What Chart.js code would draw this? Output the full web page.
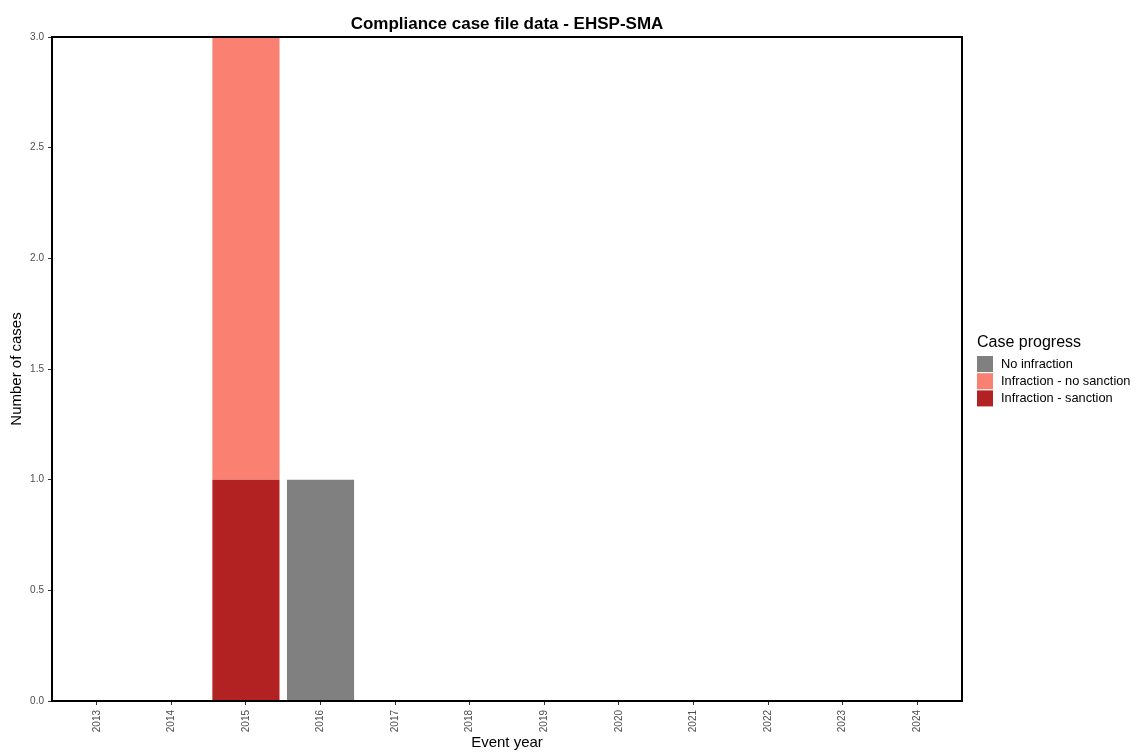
<!DOCTYPE html>
<html>
<head>
<meta charset="utf-8">
<script src="https://cdn.jsdelivr.net/npm/chart.js@4.4.1/dist/chart.umd.min.js"></script>
<style>
  html,body{margin:0;padding:0;background:#fff;}
  #wrap{width:1139px;height:755px;position:relative;}
</style>
</head>
<body>
<div id="wrap"><canvas id="myChart"></canvas></div>
<script>
        //Data
        var years = [2013, 2014, 2015, 2016, 2017, 2018, 2019, 2020, 2021, 2022, 2023, 2024]
        var noInfraction = [0, 0, 0, 1, 0, 0, 0, 0, 0, 0, 0, 0]
        var noSanction = [0, 0, 2, 0, 0, 0, 0, 0, 0, 0, 0, 0]
        var sanction = [0, 0, 1, 0, 0, 0, 0, 0, 0, 0, 0, 0]
        var yTicks = [0, 0.5, 1, 1.5, 2, 2.5, 3]

        var fontFamily = "'Liberation Sans', Arial, sans-serif"
        Chart.defaults.font.family = fontFamily

        function toPoints(values){
            return values.map(function(v, i){ return {x: years[i], y: v} })
        }

        //Panel border + legend (ggplot style)
        var panelAndLegend = {
            id: 'panelAndLegend',
            afterDatasetsDraw: function(chart){
                var a = chart.chartArea
                var ctx = chart.ctx
                ctx.save()
                ctx.strokeStyle = '#000'
                ctx.lineWidth = 2
                ctx.strokeRect(a.left, a.top, a.right - a.left, a.bottom - a.top)
                ctx.restore()
            },
            afterDraw: function(chart){
                var ctx = chart.ctx
                var a = chart.chartArea
                var x = a.right + 15
                var y = 356
                ctx.save()
                ctx.fillStyle = '#000'
                ctx.textAlign = 'left'
                ctx.textBaseline = 'alphabetic'
                ctx.font = '16px ' + fontFamily
                ctx.fillText('Case progress', x, 347)
                ctx.font = '12.8px ' + fontFamily
                ctx.textBaseline = 'middle'
                var sets = chart.data.datasets.slice().reverse()
                sets.forEach(function(ds, i){
                    var top = y + i * 17.2
                    ctx.fillStyle = ds.backgroundColor
                    ctx.fillRect(x, top, 16, 16)
                    ctx.fillStyle = '#000'
                    ctx.fillText(ds.label, x + 24, top + 8.5)
                })
                ctx.restore()
            }
        }

        //Chart
        var ctx1 = document.getElementById('myChart')

        new Chart(ctx1, {
            type: 'bar',
            data: {
                datasets: [
                    {
                        label: 'Infraction - sanction',
                        data: toPoints(sanction),
                        backgroundColor: '#B22222'
                    },
                    {
                        label: 'Infraction - no sanction',
                        data: toPoints(noSanction),
                        backgroundColor: '#FA8072'
                    },
                    {
                        label: 'No infraction',
                        data: toPoints(noInfraction),
                        backgroundColor: '#808080'
                    }
                ]
            },
            options: {
                responsive: true,
                maintainAspectRatio: false,
                animation: false,
                layout: {
                    padding: {left: 0, right: 177, top: 0, bottom: 0}
                },
                datasets: {
                    bar: {
                        categoryPercentage: 0.9,
                        barPercentage: 1,
                        borderWidth: 0
                    }
                },
                plugins: {
                    legend: {display: false},
                    tooltip: {enabled: false},
                    title: {
                        display: true,
                        fullSize: false,
                        text: 'Compliance case file data - EHSP-SMA',
                        color: '#000',
                        font: {size: 17, weight: 'bold', lineHeight: '20px'},
                        padding: {top: 14, bottom: 3}
                    }
                },
                scales: {
                    x: {
                        type: 'linear',
                        stacked: true,
                        offset: false,
                        min: 2012.4,
                        max: 2024.6,
                        afterBuildTicks: function(scale){
                            scale.ticks = years.map(function(v){ return {value: v} })
                        },
                        afterFit: function(scale){
                            scale.height = 54
                        },
                        grid: {
                            offset: false,
                            drawOnChartArea: false,
                            drawTicks: true,
                            tickLength: 4,
                            color: '#333'
                        },
                        border: {display: false},
                        ticks: {
                            autoSkip: false,
                            minRotation: 90,
                            maxRotation: 90,
                            padding: 5,
                            color: '#4d4d4d',
                            font: {size: 10},
                            callback: function(v){ return String(v) }
                        },
                        title: {
                            display: true,
                            text: 'Event year',
                            color: '#000',
                            font: {size: 15, lineHeight: '18px'},
                            padding: {top: 0, bottom: 3}
                        }
                    },
                    y: {
                        stacked: true,
                        min: 0,
                        max: 3,
                        afterBuildTicks: function(scale){
                            scale.ticks = yTicks.map(function(v){ return {value: v} })
                        },
                        afterFit: function(scale){
                            scale.width = 52
                        },
                        grid: {
                            drawOnChartArea: false,
                            drawTicks: true,
                            tickLength: 4,
                            color: '#333'
                        },
                        border: {display: false},
                        ticks: {
                            padding: 4,
                            color: '#4d4d4d',
                            font: {size: 10},
                            callback: function(v){ return v.toFixed(1) }
                        },
                        title: {
                            display: true,
                            text: 'Number of cases',
                            color: '#000',
                            font: {size: 15, lineHeight: '18px'},
                            padding: {top: 8, bottom: 0}
                        }
                    }
                }
            },
            plugins: [panelAndLegend]
        })
</script>
</body>
</html>
